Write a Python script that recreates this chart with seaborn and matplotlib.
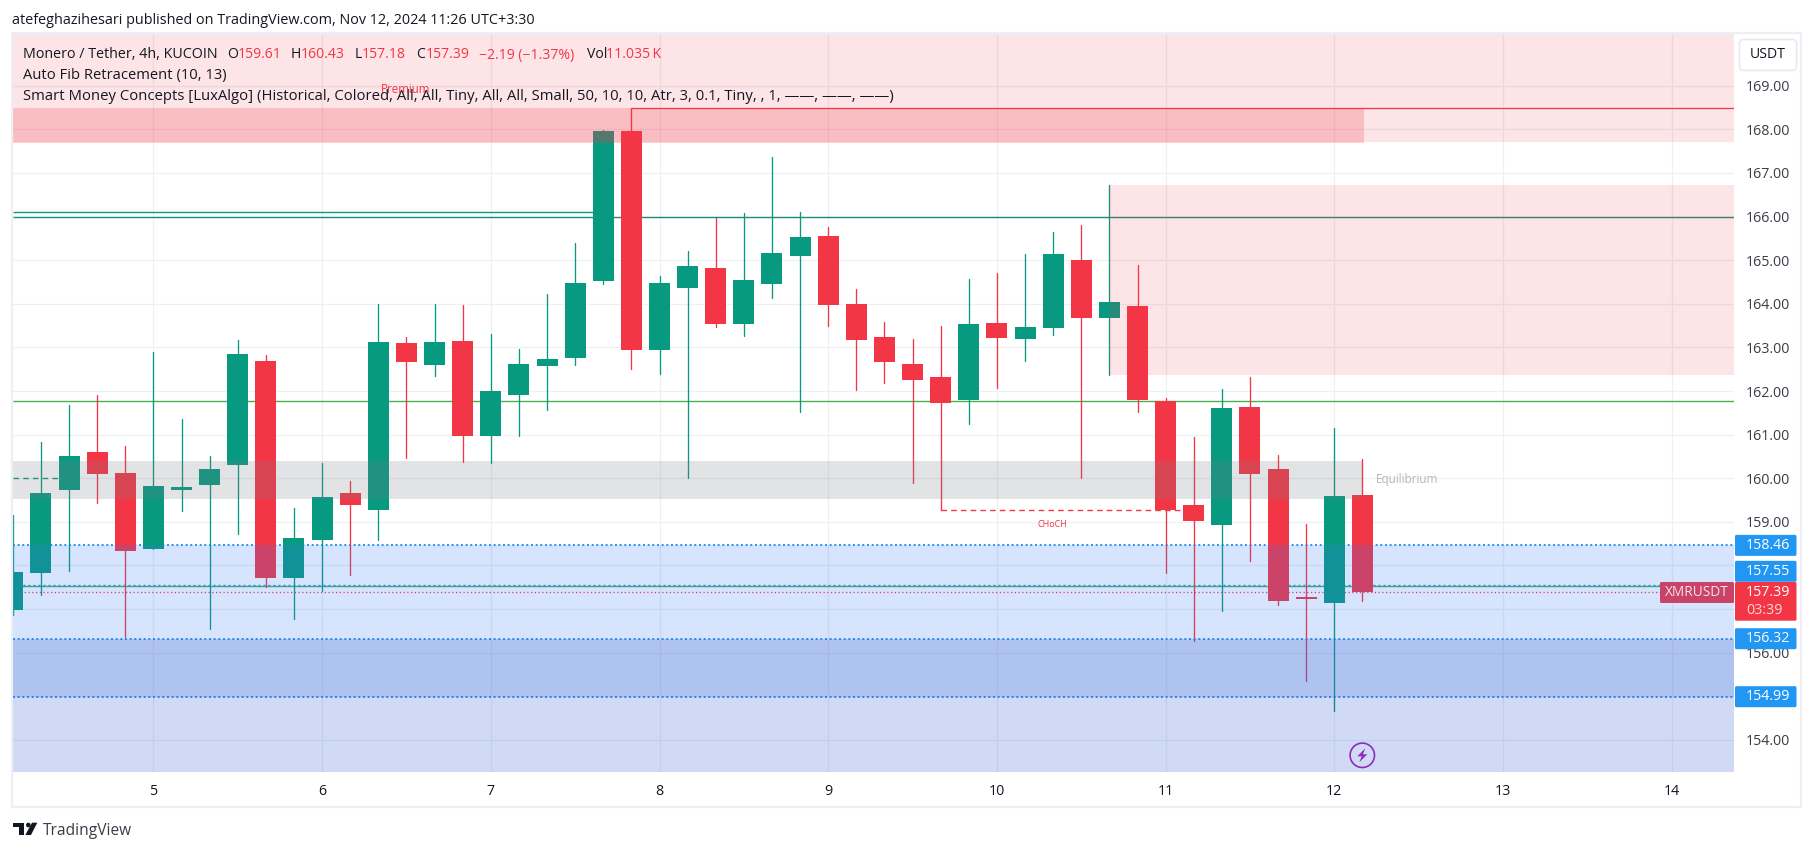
import matplotlib

matplotlib.use("Agg")
import matplotlib.pyplot as plt
import numpy as np
import pandas as pd
import seaborn as sns
from matplotlib.patches import Circle, FancyBboxPatch, Polygon

# candles, 4h each, first one opens on Nov 4 04:00
first_candle_day = 4 + 1 / 6
opens = [156.98, 157.83, 159.73, 160.60, 160.12, 158.38, 159.73, 159.85, 160.31, 162.69,
         157.72, 158.59, 159.66, 159.27, 163.10, 162.60, 163.15, 160.97, 161.91, 162.57,
         162.76, 164.52, 167.96, 162.94, 164.36, 164.82, 163.53, 164.45, 165.09, 165.55,
         163.99, 163.24, 162.62, 162.32, 161.79, 163.56, 163.19, 163.44, 165.00, 163.67,
         163.95, 161.77, 159.39, 158.93, 161.63, 160.21, 157.26, 157.15, 159.61]
closes = [157.85, 159.66, 160.51, 160.10, 158.34, 159.82, 159.80, 160.21, 162.85, 157.72,
          158.63, 159.57, 159.39, 163.12, 162.66, 163.12, 160.97, 162.00, 162.62, 162.73,
          164.48, 167.96, 162.94, 164.48, 164.87, 163.54, 164.54, 165.16, 165.53, 163.97,
          163.17, 162.66, 162.25, 161.73, 163.53, 163.21, 163.47, 165.14, 163.67, 164.04,
          161.79, 159.27, 159.02, 161.61, 160.10, 157.19, 157.24, 159.60, 157.39]
highs = [159.16, 160.83, 161.68, 161.91, 160.74, 162.89, 161.36, 160.51, 163.17, 162.82,
         159.32, 160.35, 159.94, 163.99, 163.24, 163.99, 163.97, 163.31, 162.96, 164.23,
         165.40, 167.99, 168.49, 164.64, 165.21, 165.97, 166.08, 167.36, 166.10, 165.76,
         164.34, 163.58, 163.19, 163.49, 164.56, 164.70, 165.14, 165.64, 165.80, 166.72,
         164.89, 161.84, 160.95, 162.05, 162.32, 160.53, 158.95, 161.15, 160.43]
lows = [156.87, 157.33, 157.88, 159.44, 156.37, 158.38, 159.25, 156.55, 158.73, 157.51,
        156.78, 157.42, 157.79, 158.59, 160.47, 162.34, 160.37, 160.35, 160.97, 161.56,
        162.60, 164.46, 162.50, 162.39, 160.00, 163.47, 163.26, 164.13, 161.52, 163.49,
        162.02, 162.18, 159.89, 159.27, 161.24, 162.07, 162.69, 163.28, 160.01, 162.37,
        161.52, 157.83, 156.26, 156.95, 158.11, 157.10, 155.34, 154.66, 157.18]

day_ticks = [5, 6, 7, 8, 9, 10, 11, 12, 13, 14]
price_ticks = [154, 155, 156, 157, 158, 159, 160, 161, 162, 163, 164, 165, 166, 167, 168, 169]
fib_levels = [158.46, 157.55, 156.32, 154.99]
last_close = 157.39

GREEN = "#089981"
RED = "#f23645"
BLUE = "#2196f3"
DARK = "#131722"
FONT = "Open Sans"

W, H = 1814, 851
AX_L, AX_R, AX_T, AX_B = 12.7, 1734, 33, 771.7

sns.set_theme(style="white", rc={"axes.linewidth": 0})
plt.rcParams["font.family"] = [FONT, "DejaVu Sans"]

fig = plt.figure(figsize=(W / 100, H / 100), dpi=100)
ax = fig.add_axes([AX_L / W, 1 - AX_B / H, (AX_R - AX_L) / W, (AX_B - AX_T) / H])

days = first_candle_day + np.arange(len(opens)) / 6
candles = pd.DataFrame({"day": days, "open": opens, "close": closes, "high": highs, "low": lows})
candles["side"] = np.where(candles.close >= candles.open, "up", "down")
wicks = candles.melt(id_vars=["day", "side"], value_vars=["high", "low"], value_name="price")

sns.lineplot(data=wicks, x="day", y="price", units="day", estimator=None, hue="side",
             palette={"up": GREEN, "down": RED}, linewidth=0.95, legend=False, zorder=2, ax=ax)
ax.bar(candles.day, (candles.close - candles.open).abs().clip(lower=0.03),
       bottom=candles[["open", "close"]].min(axis=1), width=0.1245,
       color=candles.side.map({"up": GREEN, "down": RED}), linewidth=0, zorder=2.5)

ax.set_xlim(4.166, 14.369)
ax.set_ylim(153.27, 170.21)

# grid and axes
ax.set_axisbelow(True)
ax.grid(True, color="#eef0f4", linewidth=0.9)
ax.set_xticks(day_ticks)
ax.set_yticks(price_ticks)
ax.set_yticklabels([f"{p:.2f}" for p in price_ticks], fontsize=10.3, color="#3a3d47", family=FONT)
ax.set_xticklabels(day_ticks, fontsize=10.3, color=DARK, family=FONT)
ax.yaxis.tick_right()
ax.tick_params(axis="y", length=0, pad=8.2)
ax.tick_params(axis="x", length=0, pad=9)
ax.set_xlabel("")
ax.set_ylabel("")

# levels, these sit behind the candles
x0, x1 = ax.get_xlim()
dots = (0, (1, 1.4))
ax.hlines(fib_levels[0], x0, x1, color=BLUE, lw=1.4, ls=dots, zorder=1.6)
ax.hlines(fib_levels[1], x0, x1, color=BLUE, lw=1.0, ls=(0, (1.4, 2.2)), zorder=1.6)
ax.hlines(fib_levels[2], x0, x1, color=BLUE, lw=1.4, ls=dots, zorder=1.6)
ax.hlines(fib_levels[3], x0, x1, color=BLUE, lw=1.4, ls=dots, zorder=1.6)
ax.hlines(last_close, x0, x1, color=RED, lw=0.9, ls=(0, (1, 2)), zorder=1.6)
ax.hlines(157.53, x0, x1, color="#4caf50", lw=1, zorder=1.5)
ax.hlines(161.76, x0, x1, color="#4caf50", lw=1, zorder=1.5)
ax.hlines(165.98, x0, x1, color="#1e8a78", lw=1, zorder=1.5)
ax.hlines(166.10, x0, days[21], color=GREEN, lw=1, zorder=1.5)
ax.hlines(168.49, days[22], x1, color=RED, lw=0.9, zorder=1.5)
ax.hlines(160.0, x0, 4.445, color=GREEN, lw=1, ls=(0, (4, 3)), zorder=1.5)
ax.hlines(159.27, days[33], days[42] - 0.04, color=RED, lw=1, ls=(0, (4, 3)), zorder=1.5)

# zones, drawn over the candles so the bodies get tinted
ax.fill_between([x0, x1], 167.70, 170.21, color="#f23645", alpha=0.135, lw=0, zorder=3)
ax.fill_between([x0, days[48] + 0.01], 167.68, 168.49, color="#f23645", alpha=0.22, lw=0, zorder=3)
ax.fill_between([days[39], x1], 162.37, 166.72, color="#f23645", alpha=0.135, lw=0, zorder=3)
ax.fill_between([x0, days[48]], 159.53, 160.40, color="#787b86", alpha=0.21, lw=0, zorder=3)
ax.fill_between([x0, x1], 156.32, 158.46, color="#3278f5", alpha=0.2, lw=0, zorder=3)
ax.fill_between([x0, x1], 154.99, 156.32, color="#3969dc", alpha=0.4, lw=0, zorder=3)
ax.fill_between([x0, x1], 153.27, 154.99, color="#1446cd", alpha=0.2, lw=0, zorder=3)


# everything around the plot goes in a pixel-sized overlay
over = fig.add_axes([0, 0, 1, 1], zorder=10)
over.set_xlim(0, W)
over.set_ylim(H, 0)
over.axis("off")


def y_px(price):
    return H - ax.transData.transform((0, price))[1]


def label(x, y, s, color=DARK, size=10.0, ha="left", **kw):
    return over.text(x, y, s, color=color, fontsize=size, ha=ha, va="center", family=FONT, **kw)


# chart frame
over.add_patch(plt.Rectangle((12, 33), 1789, 774, fill=False, ec="#eeeff4", lw=1.6))
over.add_patch(plt.Rectangle((AX_L, 33), AX_R - AX_L, 1.5, fc="#ececf2", ec="none", alpha=0.8))

label(12, 20.5, "atefeghazihesari published on TradingView.com, Nov 12, 2024 11:26 UTC+3:30", size=10.4)

# indicator legend
label(23, 55, "Monero / Tether, 4h, KUCOIN", size=10.25)
for x, s in [(227, "O"), (291, "H"), (354.5, "L"), (416, "C"), (587, "Vol")]:
    label(x, 55, s, size=10.1)
for x, s in [(238, "159.61"), (300.6, "160.43"), (362, "157.18"), (426, "157.39"),
             (479, "\u22122.19 (\u22121.37%)"), (606, "11.035\u2009K")]:
    label(x, 55, s, color=RED, size=10.1)
label(23, 76, "Auto Fib Retracement (10, 13)", size=10.6)
label(23, 97, "Smart Money Concepts [LuxAlgo] (Historical, Colored, All, All, Tiny, All, All, Small, "
      "50, 10, 10, Atr, 3, 0.1, Tiny, , 1, \u2014\u2014, \u2014\u2014, \u2014\u2014)", size=10.7)

label(405.5, 89.7, "Premium", color=RED, size=8.3, ha="center")
label(1376, y_px(160) + 1, "Equilibrium", color="#b2b5be", size=8.5)
label(1052, 524.5, "CHoCH", color=RED, size=6.5, ha="center")

# currency button
over.add_patch(FancyBboxPatch((1739.5, 39.5), 57, 31, boxstyle="round,pad=0,rounding_size=4",
                              fc="white", ec="#e6e8f0", lw=1.1))
label(1768, 55, "USDT", size=10.1, ha="center")

# price labels on the axis
box_centres = {158.46: y_px(158.46), 157.55: 571.3, 156.32: y_px(156.32), 154.99: y_px(154.99)}
for level in fib_levels:
    yc = box_centres[level]
    over.add_patch(FancyBboxPatch((1735, yc - 10.5), 61.5, 21, boxstyle="round,pad=0,rounding_size=1.5",
                                  fc=BLUE, ec="none"))
    label(1746, yc, f"{level:.2f}", color="white", size=10.3)

over.add_patch(FancyBboxPatch((1735, 582), 61.5, 38.7, boxstyle="round,pad=0,rounding_size=1.5",
                              fc=RED, ec="none"))
label(1746, y_px(last_close), f"{last_close:.2f}", color="white", size=10.3)
label(1746, 610.5, "03:39", color="#fcd5d8", size=10.3)
over.add_patch(FancyBboxPatch((1660, 582), 74, 21, boxstyle="round,pad=0,rounding_size=1.5",
                              fc="#c94267", ec="none"))
label(1697, 592.5, "XMRUSDT", color="#f7e3e8", size=9.8, ha="center")

# lightning mark
over.add_patch(Circle((1362.3, 755.3), 12.2, fc="none", ec="#8e2bbd", lw=1.2))
bolt = np.array([[3, -7], [-5, 1], [-0.6, 1], [-3, 7], [5, -1], [0.6, -1]]) + [1362.3, 755.3]
over.add_patch(Polygon(bolt, closed=True, fc="#8e2bbd", ec="none"))

# TradingView logo
over.add_patch(Polygon([[13, 822.7], [24, 822.7], [24, 835], [19.3, 835], [19.3, 827], [13, 827]],
                       closed=True, fc=DARK, ec="none"))
over.add_patch(Circle((28.3, 825), 2.3, fc=DARK, ec="none"))
over.add_patch(Polygon([[32, 822.7], [37.3, 822.7], [31, 835], [25.3, 835]], closed=True, fc=DARK, ec="none"))
label(42.5, 831, "TradingView", color="#3a3d47", size=11.2)

fig.savefig("out.png", dpi=100, facecolor="white")
